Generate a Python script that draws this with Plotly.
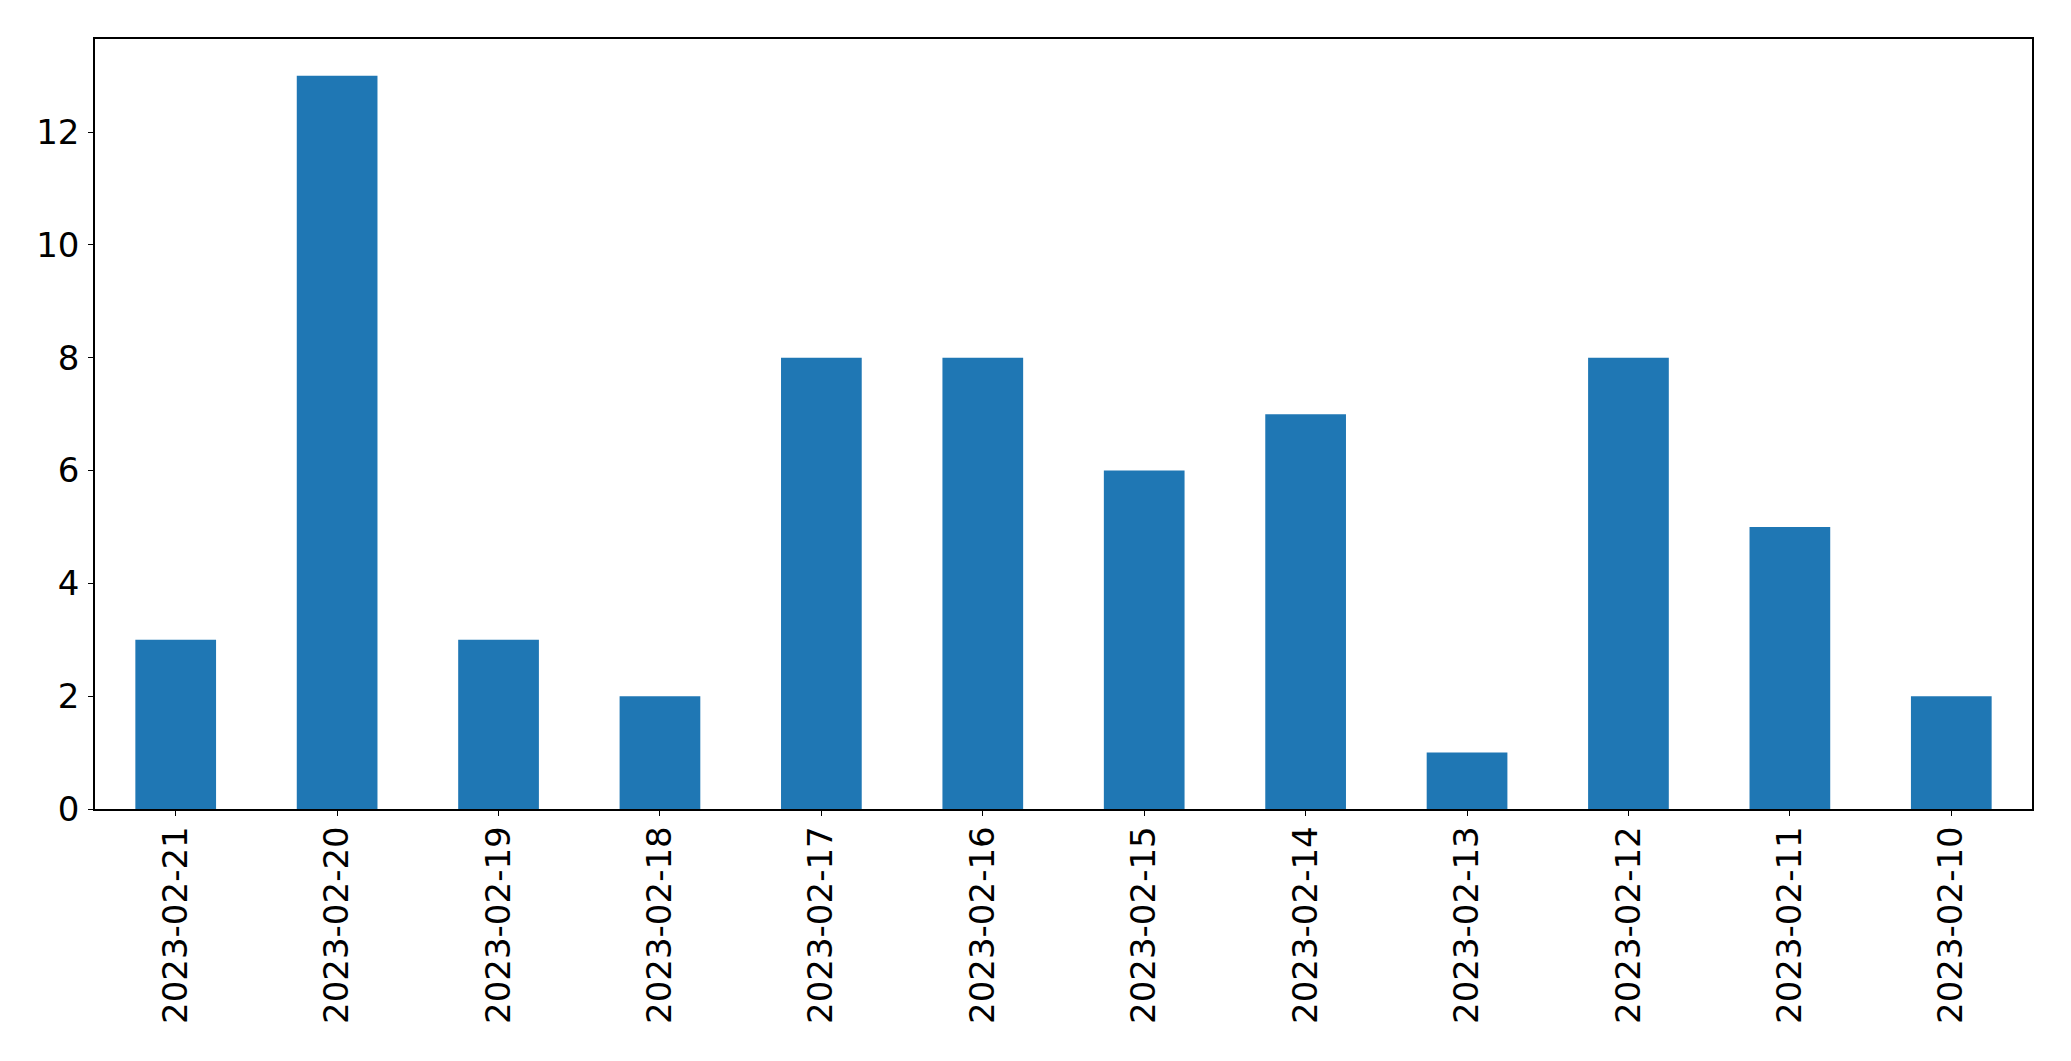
import plotly.graph_objects as go

dates = ["2023-02-21", "2023-02-20", "2023-02-19", "2023-02-18", "2023-02-17", "2023-02-16",
         "2023-02-15", "2023-02-14", "2023-02-13", "2023-02-12", "2023-02-11", "2023-02-10"]
counts = [3, 13, 3, 2, 8, 8, 6, 7, 1, 8, 5, 2]
y_ticks = [0, 2, 4, 6, 8, 10, 12]

fig = go.Figure(go.Bar(x=dates, y=counts, marker=dict(color="#1f77b4", line=dict(width=0)),
                       width=0.5))

axis_common = dict(showline=True, linecolor="black", linewidth=1.5, mirror=True,
                   ticks="outside", ticklen=5, tickwidth=1.2, tickcolor="black",
                   showgrid=False, zeroline=False,
                   tickfont=dict(family="DejaVu Sans", size=34, color="black"))

# page body has an 8px margin, so the figure is sized/offset to compensate
fig.update_layout(
    width=2063, height=1053,
    margin=dict(l=86.5, r=39, t=31, b=252, autoexpand=False),
    plot_bgcolor="white", paper_bgcolor="white",
    showlegend=False,
    xaxis=dict(type="category", range=[-0.5, 11.5], tickangle=-90, ticklabelstandoff=-3, **axis_common),
    yaxis=dict(range=[0, 13.65], tickvals=y_ticks, ticklabelstandoff=2, **axis_common),
)

fig.write_html("out.html")
